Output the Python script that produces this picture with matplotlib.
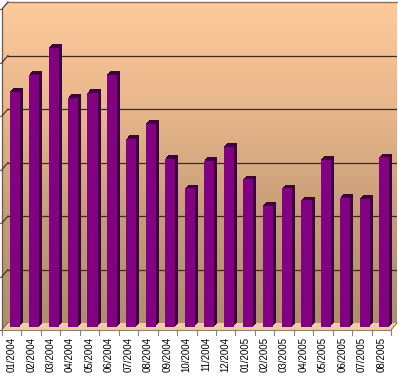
import numpy as np
import matplotlib

matplotlib.use("Agg")
import matplotlib.pyplot as plt
import matplotlib.transforms as mtransforms
from matplotlib.colors import LinearSegmentedColormap
from matplotlib.patches import Polygon

# monthly values (gridline step = 10)
months = ["01/2004", "02/2004", "03/2004", "04/2004", "05/2004", "06/2004",
          "07/2004", "08/2004", "09/2004", "10/2004", "11/2004", "12/2004",
          "01/2005", "02/2005", "03/2005", "04/2005", "05/2005", "06/2005",
          "07/2005", "08/2005"]
values = [43.9, 47.1, 52.1, 42.8, 43.7, 47.1, 35.1, 37.9, 31.4, 25.8,
          31.0, 33.6, 27.5, 22.6, 25.8, 23.6, 31.2, 24.1, 23.9, 31.6]
grid_values = [10, 20, 30, 40, 50]
y_max = 60

W, H, DPI = 398, 377, 100
fig = plt.figure(figsize=(W / DPI, H / DPI), dpi=DPI)
fig.patch.set_facecolor("white")

# back wall in pixels (top-down coords)
wx0, wx1, wy0, wy1 = 8, 397, 2, 323
fdx, fdy = -6, 7      # 3D offset of the front edge (px)
bdx, bdy = -3, 3.5    # 3D depth of the bars (px)


def shift(dx, dy):
    return mtransforms.ScaledTranslation(dx / DPI, -dy / DPI, fig.dpi_scale_trans)


# gradient background (back wall + left wall)
bg = fig.add_axes([0, 0, 1, 1], zorder=0)
bg.set_xlim(0, W)
bg.set_ylim(H, 0)
bg.axis("off")
cmap = LinearSegmentedColormap.from_list(
    "wall", ["#fdca9b", "#e8b68b", "#c49c78", "#ad8d6d"])
grad = np.linspace(0, 1, 256).reshape(-1, 1)
im = bg.imshow(grad, cmap=cmap, aspect="auto",
               extent=[wx0 + fdx, wx1, wy1 + fdy, wy0], interpolation="bilinear")
clip = Polygon([(wx0, wy0), (wx1 + 1, wy0), (wx1 + 1, wy1), (wx0 + fdx, wy1 + fdy),
                (wx0 + fdx, wy0 + fdy)], closed=True, transform=bg.transData)
im.set_clip_path(clip)

ax = fig.add_axes([wx0 / W, (H - wy1) / H, (wx1 - wx0) / W, (wy1 - wy0) / H], zorder=1)
ax.set_facecolor("none")
n = len(values)
x = np.arange(n)
ax.set_xlim(-0.5, n - 0.5)
ax.set_ylim(0, y_max)
for s in ax.spines.values():
    s.set_visible(False)
ax.set_yticks([])

# gridlines on the back wall
for g in grid_values:
    ax.axhline(g, color="#3b2c20", lw=0.9, zorder=1)
ax.axhline(y_max, color="#8a7060", lw=1.0, zorder=1, clip_on=False)

front = ax.transData + shift(fdx, fdy)
xl = -0.5
xr = n - 0.5

# left wall: front edge, diagonals, ticks
ax.plot([xl, xl], [0, y_max], color="#6a5a50", lw=0.9, transform=front, clip_on=False)
for g in grid_values + [0, y_max]:
    p0 = ax.transData.transform((xl, g))
    p1 = front.transform((xl, g))
    ax.plot([p0[0], p1[0]], [p0[1], p1[1]], color="#3b2c20", lw=0.8,
            transform=None, clip_on=False)
    ax.plot([p1[0] - 3, p1[0]], [p1[1], p1[1]], color="#6a5a50", lw=0.8,
            transform=None, clip_on=False)

# floor
b0 = ax.transData.transform((xl, 0))
b1 = ax.transData.transform((xr, 0))
f0 = front.transform((xl, 0))
f1 = front.transform((xr, 0))
floor = Polygon([b0, b1, f1, f0], closed=True, transform=None, facecolor="#f0cba4",
                edgecolor="none", zorder=2, clip_on=False)
ax.add_patch(floor)
ax.plot([f0[0], f1[0]], [f0[1], f1[1]], color="#8a8078", lw=0.8,
        transform=None, clip_on=False, zorder=3)
ax.plot([f1[0], b1[0]], [f1[1], b1[1]], color="#8a8078", lw=0.8,
        transform=None, clip_on=False, zorder=3)
for b in np.arange(n + 1) - 0.5:
    p = front.transform((b, 0))
    ax.plot([p[0], p[0]], [p[1], p[1] - 5], color="#8a8078", lw=0.8,
            transform=None, clip_on=False, zorder=3)

# 3D bars: dark extrusion then front face
width = 0.52
for k in np.linspace(0, 1, 7):
    ax.bar(x, values, width=width, color="#3e003e", zorder=4,
           transform=ax.transData + shift(bdx * k, bdy * k), clip_on=False)
ax.bar(x, values, width=width, color="#820082", zorder=5,
       transform=ax.transData + shift(bdx, bdy), clip_on=False)

# category labels under the floor front edge
ax.set_xticks(x)
ax.set_xticklabels(months, rotation=90, fontsize=7, family="Liberation Sans")
ax.tick_params(axis="x", length=0, pad=5)
for lab in ax.get_xticklabels():
    lab.set_transform(lab.get_transform() + shift(fdx, fdy))

fig.savefig("out.png", dpi=DPI)
